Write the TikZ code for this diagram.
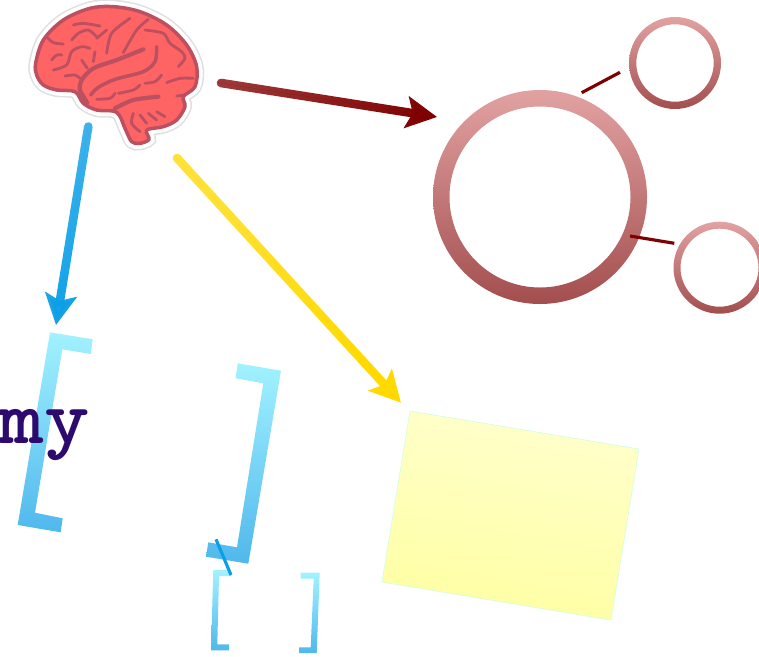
\documentclass[tikz,border=0pt]{standalone}
\usepackage{tikz}
\usetikzlibrary{arrows.meta, fadings}
\tikzfading[name=tailfade, left color=transparent!22, right color=transparent!0]
\tikzset{bigtip/.style={-{Stealth[length=17.5pt,width=18pt,inset=3.5pt]},line width=4.9pt,line cap=round}}
\tikzset{ringpart/.style={even odd rule,top color=ringtop,bottom color=ringbot}}
\tikzset{bracketpart/.style={top color=bracktop,bottom color=brackbot}}
\tikzset{linkline/.style={draw=linkred,line width=1.8pt}}
\tikzset{sulcus/.style={draw=brainline,line width=1.6pt,line cap=round,line join=round}}
\definecolor{ringtop}{HTML}{E2A2A2}
\definecolor{ringbot}{HTML}{A34E4E}
\definecolor{bracktop}{HTML}{A2F2FF}
\definecolor{brackbot}{HTML}{50B8EC}
\definecolor{linkred}{HTML}{7F0000}
\definecolor{brainline}{HTML}{BC5060}
\definecolor{brainfill}{HTML}{FF6464}
\definecolor{arrowblue}{HTML}{0C9FE6}
\definecolor{arrowgold}{HTML}{FFD900}
\definecolor{inkpurple}{HTML}{2D0A6E}
\definecolor{notemint}{HTML}{D4FFE0}
\begin{document}
\begin{tikzpicture}[x=0.02cm,y=-0.02cm] % one unit is one pixel, y runs down
  \useasboundingbox (0,0) rectangle (759,656);

  \coordinate (bigc) at (540,197);
  \coordinate (topc) at (675,63);
  \coordinate (lowc) at (719.5,267.7);

  % brackets
  \shade[bracketpart] (50,332.3) -- (92.7,339.3) -- (90.7,354) -- (62.3,349.3) -- (35,512.7) -- (62.7,518.3) -- (60.7,532.3) -- (17.7,525) -- cycle;
  \shade[bracketpart] (237.7,363.3) -- (281,370.7) -- (248.3,563.7) -- (206,556.7) -- (208.3,542.3) -- (237,547.3) -- (263.3,383.3) -- (235.7,378.3) -- cycle;
  \shade[bracketpart] (213.3,570) -- (231,570) -- (231,576) -- (219,576) -- (217.3,644.3) -- (229,644.3) -- (229,650.3) -- (211,650.3) -- cycle;
  \shade[bracketpart] (300.7,572.7) -- (319.7,572.7) -- (316.7,653) -- (299,653) -- (299,647.3) -- (310.7,647.3) -- (313.7,578.7) -- (300.7,578.7) -- cycle;
  \coordinate (slasha) at (216,539.3);
  \coordinate (slashb) at (231,575);
  \draw[draw=arrowblue,line width=1.8pt] (slasha) -- (slashb);

  \node[xscale=1.12,transform shape,anchor=base east,inner sep=0pt,text=inkpurple,font=\fontsize{44}{44}\selectfont\ttfamily\bfseries] (dummytext) at (90,443) {my};

  % sticky note
  \draw[draw=notemint,top color=yellow!20,bottom color=yellow!36,shading angle=-10] (410,411) -- (639,449) -- (611,620) -- (382,582) -- cycle;

  % rings
  \shade[ringpart] (bigc) circle (107) (bigc) circle (90.5);
  \shade[ringpart] (topc) circle (46) (topc) circle (38.7);
  \shade[ringpart] (lowc) circle (46) (lowc) circle (39);
  \coordinate (linka) at (581.7,92.7);
  \coordinate (linkb) at (620,72.3);
  \coordinate (linkc) at (630,236);
  \coordinate (linkd) at (674.3,243.3);
  \draw[linkline] (linka) -- (linkb);
  \draw[linkline] (linkc) -- (linkd);

  % brain, traced at 3x
  \begin{scope}[x=0.02cm/3,y=-0.02cm/3]
    \def\brainpath{plot[smooth cycle,tension=0.55] coordinates {(107,190) (130,120) (190,60) (270,25) (340,20) (420,35) (500,75) (560,135) (590,200) (585,260) (550,290) (555,320) (530,360) (490,380) (440,390) (447,418) (420,430) (395,425) (375,385) (350,337) (290,330) (250,310) (225,275) (170,270) (130,255) (110,225)}}
    \draw[draw=black!12,line width=8pt] \brainpath;
    \draw[draw=white,line width=6.2pt] \brainpath;
    \draw[sulcus,fill=brainfill,line width=2pt] \brainpath;
    \draw[sulcus,line width=2.4pt] plot[smooth] coordinates {(430,148) (350,180) (280,205) (245,240) (240,270) (262,308)};
    \draw[sulcus,line width=2pt] plot[smooth] coordinates {(470,140) (465,185) (430,215) (345,238) (295,262) (272,285)};
    \draw[sulcus,line width=2.4pt] plot[smooth] coordinates {(475,290) (400,300) (345,325)};
    \draw[sulcus] plot[smooth] coordinates {(370,158) (410,90) (445,58)};
    \draw[sulcus] plot[smooth] coordinates {(320,160) (335,100) (390,55)};
    \draw[sulcus] plot[smooth] coordinates {(140,110) (160,128) (190,132)};
    \draw[sulcus] plot[smooth] coordinates {(155,180) (170,165) (185,165)};
    \draw[sulcus] plot[smooth] coordinates {(160,210) (200,195) (215,155) (245,140) (270,145)};
    \draw[sulcus] plot[smooth] coordinates {(262,205) (245,180)};
    \draw[sulcus] plot[smooth] coordinates {(195,228) (225,225) (240,235)};
    \draw[sulcus] plot[smooth] coordinates {(280,185) (285,155)};
    \draw[sulcus] plot[smooth] coordinates {(215,120) (235,100) (265,90) (290,110)};
    \draw[sulcus] plot[smooth] coordinates {(220,75) (250,70) (300,78)};
    \draw[sulcus] plot[smooth] coordinates {(290,115) (320,90)};
    \draw[sulcus] plot[smooth] coordinates {(435,90) (490,100) (510,130) (545,155) (555,175) (535,200)};
    \draw[sulcus] plot[smooth] coordinates {(290,298) (330,295) (345,280)};
    \draw[sulcus] plot[smooth] coordinates {(355,280) (400,270) (420,255)};
    \draw[sulcus] plot[smooth] coordinates {(435,250) (465,245) (485,225)};
    \draw[sulcus] plot[smooth] coordinates {(500,248) (540,235) (580,235)};
    \draw[sulcus] plot[smooth] coordinates {(530,288) (555,285)};
    \draw[sulcus] plot[smooth] coordinates {(400,340) (395,370) (420,395)};
    \draw[sulcus] plot[smooth] coordinates {(420,345) (440,370)};
    \draw[sulcus] plot[smooth] coordinates {(445,340) (470,360)};
    \draw[sulcus] plot[smooth] coordinates {(470,335) (495,350)};
  \end{scope}

  % arrows
  \coordinate (bluetail) at (88.3,126.5);
  \coordinate (bluetip) at (56,325);
  \coordinate (redtail) at (221,83);
  \coordinate (redtip) at (437,117);
  \coordinate (goldtail) at (177,158);
  \coordinate (goldtip) at (401,402.7);
  \draw[bigtip,draw=arrowblue,fill=arrowblue,path fading=tailfade,fading angle=-80] (bluetail) -- (bluetip);
  \draw[bigtip,draw=linkred,fill=linkred,path fading=tailfade,fading angle=-9] (redtail) -- (redtip);
  \draw[bigtip,draw=arrowgold,fill=arrowgold,path fading=tailfade,fading angle=-47] (goldtail) -- (goldtip);
\end{tikzpicture}
\end{document}
